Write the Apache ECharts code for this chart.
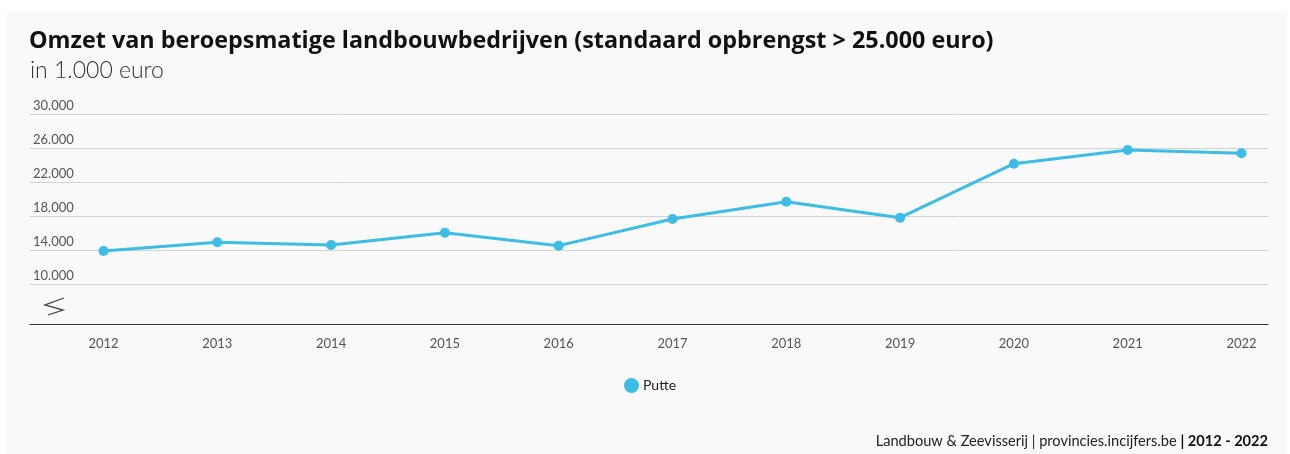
<!DOCTYPE html>
<html>
<head>
<meta charset="utf-8">
<style>
  html, body { margin: 0; padding: 0; background: #ffffff; }
  #chart { width: 1290px; height: 454px; }
</style>
<script src="https://cdn.jsdelivr.net/npm/echarts@6/dist/echarts.min.js"></script>
</head>
<body>
<div id="chart"></div>
<script>
// Omzet in 1.000 euro, Putte
const years = [2012, 2013, 2014, 2015, 2016, 2017, 2018, 2019, 2020, 2021, 2022];
const putte = [13940, 14970, 14650, 16090, 14570, 17700, 19740, 17860, 24210, 25830, 25440];
const yTicks = [10000, 14000, 18000, 22000, 26000, 30000];

const seriesName = 'Putte';
const titleText = 'Omzet van beroepsmatige landbouwbedrijven (standaard opbrengst > 25.000 euro)';
const subtitleText = 'in 1.000 euro';

const fmtThousands = v => String(v).replace(/\B(?=(\d{3})+(?!\d))/g, '.');

const chart = echarts.init(document.getElementById('chart'), null, { renderer: 'canvas' });

const option = {
  backgroundColor: '#ffffff',
  animation: false,
  textStyle: { fontFamily: 'Lato, "Open Sans", sans-serif' },
  graphic: [
    {
      type: 'rect', z: -10, silent: true,
      shape: { x: 7, y: 12, width: 1280, height: 450 },
      style: { fill: '#f9f9f9' }
    },
    {
      // axis break marker below the lowest gridline
      type: 'polyline', z: 10, silent: true,
      shape: { points: [[64, 298], [45, 305], [63, 310], [48, 315]] },
      style: { stroke: '#444', lineWidth: 1.3, fill: null }
    }
  ],
  title: [
    {
      text: titleText,
      left: 24, top: 25,
      textStyle: { fontFamily: '"Open Sans"', fontWeight: 'bold', fontSize: 23.35, color: '#111' }
    },
    {
      text: subtitleText,
      left: 25, top: 54,
      textStyle: { fontFamily: 'Lato', fontWeight: 300, fontSize: 23, color: '#333' }
    },
    {
      text: '{n|Landbouw & Zeevisserij | provincies.incijfers.be }{b|| 2012 - 2022}',
      right: 17, top: 429,
      textStyle: {
        fontWeight: 'normal',
        rich: {
          n: { fontFamily: 'Lato', fontSize: 14.6, fontWeight: 'normal', color: '#222' },
          b: { fontFamily: 'Lato', fontSize: 14.6, fontWeight: 'bold', color: '#111' }
        }
      }
    }
  ],
  legend: {
    data: [seriesName],
    left: 619, top: 373,
    icon: 'circle',
    itemWidth: 15, itemHeight: 15, itemGap: 10,
    textStyle: { fontFamily: 'Lato', fontSize: 14, color: '#222', padding: [0, 0, 0, -1] }
  },
  grid: { left: 30, right: 22, top: 114.5, bottom: 129.5, containLabel: false },
  xAxis: {
    type: 'value',
    min: 2011.354, max: 2022.233,
    axisLine: { show: true, lineStyle: { color: '#333', width: 1.2 } },
    axisTick: { show: false, customValues: years },
    splitLine: { show: false },
    axisLabel: {
      customValues: years,
      formatter: v => String(v),
      margin: 13,
      fontFamily: 'Lato', fontSize: 13, color: '#555'
    }
  },
  yAxis: {
    type: 'value',
    min: 5294, max: 30000,
    axisLine: { show: false },
    axisTick: { show: false, customValues: yTicks },
    splitLine: { show: true, lineStyle: { color: '#d2d2d2', width: 1 } },
    axisLabel: {
      customValues: yTicks,
      formatter: v => fmtThousands(v),
      align: 'left', verticalAlign: 'bottom',
      margin: -3, padding: [0, 0, 2, 0],
      fontFamily: 'Lato', fontSize: 13, color: '#555'
    }
  },
  series: [
    {
      name: seriesName,
      type: 'line',
      data: years.map((y, i) => [y, putte[i]]),
      symbol: 'circle', symbolSize: 10,
      lineStyle: { color: '#3dbde5', width: 3 },
      itemStyle: { color: '#3dbde5' }
    }
  ]
};

chart.setOption(option);
</script>
</body>
</html>
